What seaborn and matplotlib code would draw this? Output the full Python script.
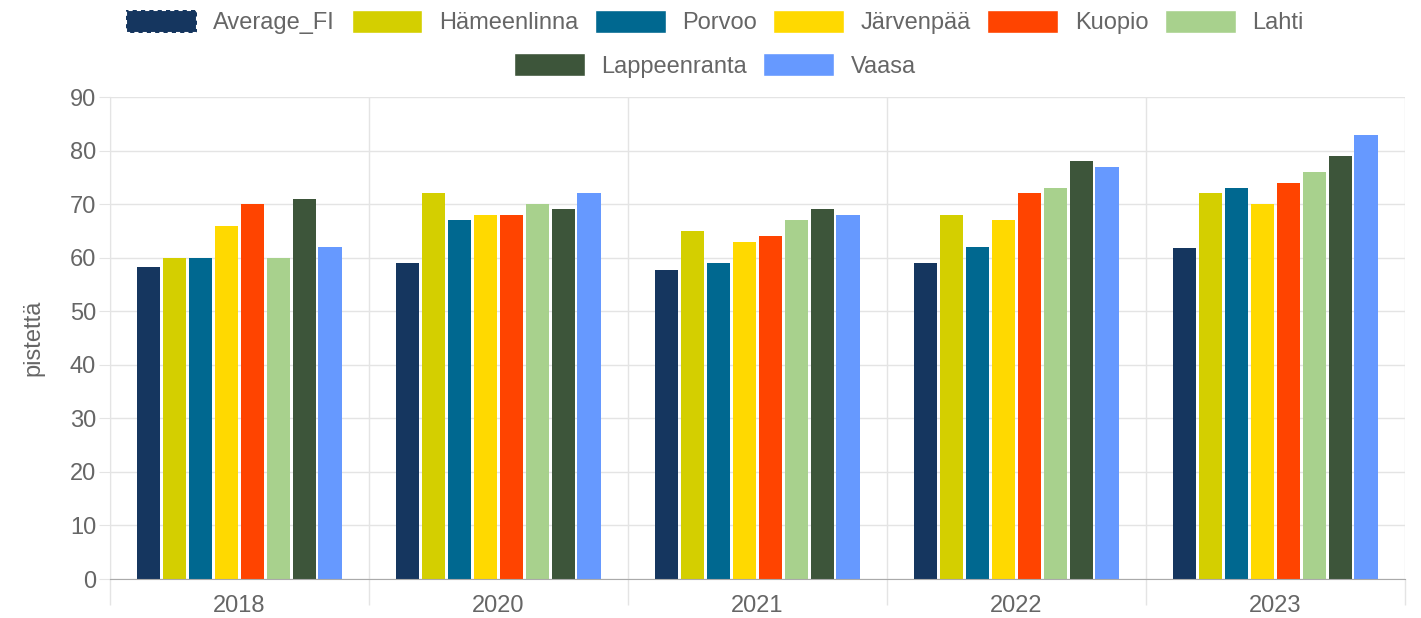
import matplotlib
matplotlib.use("Agg")
import matplotlib.pyplot as plt
from matplotlib.patches import Patch
from matplotlib.ticker import MultipleLocator, FixedLocator
import pandas as pd
import seaborn as sns

# values
years = ["2018", "2020", "2021", "2022", "2023"]
cities = ["Average_FI", "Hämeenlinna", "Porvoo", "Järvenpää", "Kuopio",
          "Lahti", "Lappeenranta", "Vaasa"]
average_fi = [58.3, 59.0, 57.7, 59.0, 61.8]
hameenlinna = [60, 72, 65, 68, 72]
porvoo = [60, 67, 59, 62, 73]
jarvenpaa = [66, 68, 63, 67, 70]
kuopio = [70, 68, 64, 72, 74]
lahti = [60, 70, 67, 73, 76]
lappeenranta = [71, 69, 69, 78, 79]
vaasa = [62, 72, 68, 77, 83]
colors = ["#15365f", "#d4cf00", "#006890", "#ffd900", "#ff4400",
          "#a8d18d", "#3d553a", "#6699ff"]

series = [average_fi, hameenlinna, porvoo, jarvenpaa, kuopio, lahti,
          lappeenranta, vaasa]
rows = []
for city, vals in zip(cities, series):
    for year, v in zip(years, vals):
        rows.append({"year": year, "city": city, "value": v})
data = pd.DataFrame(rows)

sns.set_style("white")
plt.rcParams["font.family"] = ["Liberation Sans", "DejaVu Sans"]
text_col = "#666666"

fig = plt.figure(figsize=(14.21, 6.18), dpi=100)
ax = fig.add_axes([0.0774, 0.0631, 0.9113, 0.7799])

sns.barplot(data=data, x="year", y="value", hue="city", hue_order=cities,
            order=years, palette=colors, saturation=1, width=0.8, gap=0.1,
            linewidth=0, legend=False, ax=ax)

ax.set_ylim(0, 90)
ax.set_xlim(-0.5, 4.5)
ax.yaxis.set_major_locator(MultipleLocator(10))
ax.xaxis.set_minor_locator(FixedLocator([-0.5, 0.5, 1.5, 2.5, 3.5, 4.5]))
ax.grid(axis="y", color="#e4e4e4", linewidth=1)
ax.grid(axis="x", which="minor", color="#e4e4e4", linewidth=1)
ax.set_axisbelow(True)
ax.tick_params(axis="x", which="major", bottom=False, labelsize=17,
               labelcolor=text_col, pad=8)
ax.tick_params(axis="x", which="minor", bottom=True, length=19, width=1,
               color="#e4e4e4")
ax.tick_params(axis="y", left=True, length=8, color="#e4e4e4", labelsize=17,
               labelcolor=text_col, pad=2)
for s in ["top", "right"]:
    ax.spines[s].set_visible(False)
ax.spines["left"].set_color("#e4e4e4")
ax.spines["bottom"].set_color("#aaaaaa")
ax.set_xlabel("")
ax.set_ylabel("pistettä", fontsize=17, color=text_col, labelpad=18)

handles = []
for city, c in zip(cities, colors):
    if city == "Average_FI":
        h = Patch(facecolor=c, edgecolor="white", linestyle=(0, (2, 2)),
                  linewidth=1.5, label=city)
    else:
        h = Patch(facecolor=c, edgecolor="white", linewidth=1, label=city)
    handles.append(h)

leg_kw = dict(frameon=False, fontsize=17, labelcolor=text_col,
              handlelength=3.0, handleheight=1.1, handletextpad=0.7,
              columnspacing=0.7, borderaxespad=0)
fig.legend(handles=handles[:6], loc="center", ncol=6,
           bbox_to_anchor=(0.503, 0.964), **leg_kw)
fig.legend(handles=handles[6:], loc="center", ncol=2,
           bbox_to_anchor=(0.503, 0.894), **leg_kw)

fig.savefig("out.png", dpi=100)
